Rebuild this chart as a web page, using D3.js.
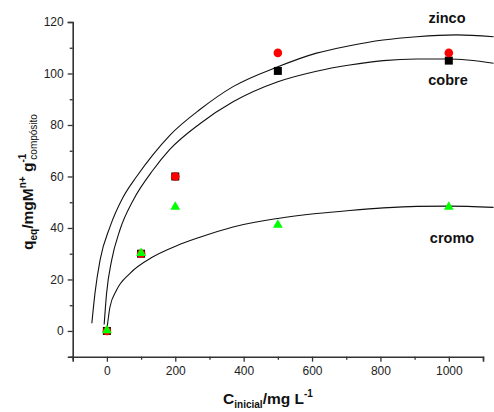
<!DOCTYPE html>
<html>
<head>
<meta charset="utf-8">
<script src="https://cdn.jsdelivr.net/npm/d3@7"></script>
<style>
  html, body { margin: 0; padding: 0; background: #fff; }
  svg { display: block; font-family: "Liberation Sans", Arial, sans-serif; }
</style>
</head>
<body>
<svg id="chart" width="494" height="412"></svg>
<script>
// Initial concentration (mg/L) of each experiment
const concentrations = [0, 100, 200, 500, 1000];
// Measured uptake q_eq for each metal
const zincoValues = [0, 30, 60, 108, 108];
const cobreValues = [0, 30, 60, 101, 105];
const cromoValues = [0, 30, 48, 41, 48];

// Fitted isotherm curves as [C, q] pairs
const zincoFitX = [-44, -35, -20, 9, 48, 87, 135, 184, 272, 369, 500, 613, 710, 808, 906, 1022, 1131];
const zincoFitY = [3, 14.5, 27.5, 40.4, 52.1, 60, 68.5, 76, 86, 94.9, 102.6, 107.9, 110.8, 113, 114.3, 115, 114.3];
const cobreFitX = [-8, -1, 14, 38, 77, 135, 184, 272, 369, 500, 613, 710, 808, 906, 999, 1131];
const cobreFitY = [2.5, 14.5, 27.5, 39.2, 50.8, 62.5, 70.5, 80.5, 89, 96.8, 100.9, 103.3, 105, 105.6, 105.6, 104];
const cromoFitX = [1, 9, 28, 67, 135, 204, 272, 369, 500, 613, 710, 808, 906, 999, 1131];
const cromoFitY = [1.6, 9.3, 15.8, 22.3, 28.8, 33.1, 36.4, 40.4, 43.7, 45.6, 46.8, 47.8, 48.4, 48.5, 48];

// Axis ticks
const xMajorTicks = [0, 200, 400, 600, 800, 1000];
const xMinorTicks = [-100, 100, 300, 500, 700, 900, 1100];
const yMajorTicks = [0, 20, 40, 60, 80, 100, 120];
const yMinorTicks = [-10, 10, 30, 50, 70, 90, 110];

const svg = d3.select("#chart");
const axisColor = "#333";

const x = d3.scaleLinear().domain([-100, 1100]).range([72.7, 483]);
const y = d3.scaleLinear().domain([-10, 120]).range([356.7, 22]);

// Axes
const gx = svg.append("g").attr("transform", `translate(0,${y(-10)})`);
gx.call(d3.axisBottom(x).tickValues(xMajorTicks).tickSize(5).tickPadding(5).tickFormat(d3.format("d")));
gx.append("g").call(d3.axisBottom(x).tickValues(xMinorTicks).tickSize(3).tickFormat(""));

const gy = svg.append("g").attr("transform", `translate(${x(-100)},0)`);
gy.call(d3.axisLeft(y).tickValues(yMajorTicks).tickSize(5).tickPadding(4).tickFormat(d3.format("d")));
gy.append("g").call(d3.axisLeft(y).tickValues(yMinorTicks).tickSize(3).tickFormat(""));

svg.selectAll(".domain").attr("stroke", axisColor).attr("stroke-width", 1.6);
svg.selectAll(".tick line").attr("stroke", axisColor).attr("stroke-width", 1.3);
svg.selectAll(".domain").filter(function () { return this.parentNode !== gx.node() && this.parentNode !== gy.node(); }).remove();
svg.selectAll(".tick text").attr("font-size", 12).attr("fill", "#222")
  .attr("font-family", "'Liberation Sans', Arial, sans-serif");

// Fitted curves
const line = d3.line().x(d => x(d[0])).y(d => y(d[1])).curve(d3.curveMonotoneX);
const fits = [
  d3.zip(zincoFitX, zincoFitY),
  d3.zip(cobreFitX, cobreFitY),
  d3.zip(cromoFitX, cromoFitY)
];
svg.append("g").selectAll("path").data(fits).join("path")
  .attr("d", line).attr("fill", "none").attr("stroke", "#111").attr("stroke-width", 1.1);

// Data markers
svg.append("g").selectAll("rect").data(d3.zip(concentrations, cobreValues)).join("rect")
  .attr("x", d => x(d[0]) - 4).attr("y", d => y(d[1]) - 4)
  .attr("width", 8).attr("height", 8).attr("fill", "#000");

svg.append("g").selectAll("circle").data(d3.zip(concentrations, zincoValues)).join("circle")
  .attr("cx", d => x(d[0])).attr("cy", d => y(d[1])).attr("r", 4.3).attr("fill", "#ff0000");

const tri = d3.symbol().type(d3.symbolTriangle).size(42);
svg.append("g").selectAll("path").data(d3.zip(concentrations, cromoValues)).join("path")
  .attr("d", tri).attr("transform", d => `translate(${x(d[0])},${y(d[1]) - 0.5})`)
  .attr("fill", "#00ff00");

// Curve labels
const labels = [
  { text: "zinco", cx: 447, cy: 23 },
  { text: "cobre", cx: 448, cy: 85 },
  { text: "cromo", cx: 452, cy: 243 }
];
svg.append("g").selectAll("text").data(labels).join("text")
  .attr("x", d => d.cx).attr("y", d => d.cy).attr("text-anchor", "middle")
  .attr("font-size", 14.5).attr("font-weight", "bold").attr("fill", "#111")
  .text(d => d.text);

// X axis title: C_inicial/mg L^-1
const xt = svg.append("text").attr("x", 268).attr("y", 404).attr("text-anchor", "middle")
  .attr("font-size", 15.5).attr("font-weight", "bold").attr("fill", "#111");
xt.append("tspan").text("C");
xt.append("tspan").attr("font-size", 10).attr("dy", 4).text("inicial");
xt.append("tspan").attr("dy", -4).text("/mg L");
xt.append("tspan").attr("font-size", 10).attr("dy", -7).text("-1");

// Y axis title: q_eq/mgM^n+ g^-1 (composito)
const yt = svg.append("text").attr("transform", "translate(33,182) rotate(-90)")
  .attr("text-anchor", "middle").attr("font-size", 15.5).attr("font-weight", "bold").attr("fill", "#111");
yt.append("tspan").text("q");
yt.append("tspan").attr("font-size", 10).attr("dy", 4).text("eq");
yt.append("tspan").attr("dy", -4).text("/mgM");
yt.append("tspan").attr("font-size", 10).attr("dy", -7).text("n+");
yt.append("tspan").attr("dy", 7).text(" g");
yt.append("tspan").attr("font-size", 10).attr("dy", -7).text("-1");
yt.append("tspan").attr("font-size", 10).attr("font-weight", "normal").attr("dx", -6).attr("dy", 11).text("compósito");
</script>
</body>
</html>
